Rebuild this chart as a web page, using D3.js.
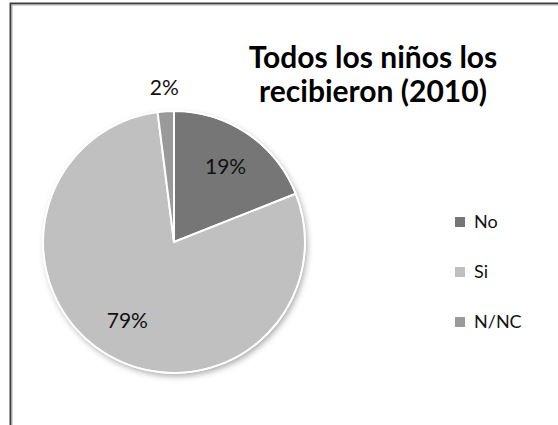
<!DOCTYPE html>
<html>
<head>
<meta charset="utf-8">
<script src="https://cdn.jsdelivr.net/npm/d3@7"></script>
<style>
  html, body { margin: 0; padding: 0; background: #fff; }
  svg { display: block; }
</style>
</head>
<body>
<svg id="chart" width="558" height="425"></svg>
<script>
// Survey answers: did every child receive them (2010)
const categories = ["No", "Si", "N/NC"];
const values = [19, 79, 2];
const labels = ["19%", "79%", "2%"];
const colors = ["#767676", "#c0c0c0", "#9a9a9a"];
const titleLines = ["Todos los niños los", "recibieron (2010)"];

const svg = d3.select("#chart");
const W = 558, H = 425;
const font = "Lato, 'Open Sans', 'DejaVu Sans', sans-serif";

// chart frame (continues past the right and bottom edges)
svg.append("rect")
  .attr("x", 10.5).attr("y", 3.5)
  .attr("width", W + 20).attr("height", H + 20)
  .attr("fill", "#fff")
  .attr("stroke", "#3c3c3c")
  .attr("stroke-width", 2);
svg.append("rect")
  .attr("x", 12).attr("y", 5)
  .attr("width", W + 20).attr("height", H + 20)
  .attr("fill", "none")
  .attr("stroke", "#b0b0b0")
  .attr("stroke-width", 1);

// soft shadow under the pie
const defs = svg.append("defs");
const f = defs.append("filter").attr("id", "shadow")
  .attr("x", "-20%").attr("y", "-20%").attr("width", "140%").attr("height", "140%");
f.append("feDropShadow")
  .attr("dx", 2).attr("dy", 3).attr("stdDeviation", 3)
  .attr("flood-color", "#000").attr("flood-opacity", 0.35);

const cx = 174, cy = 242, r = 131;

const color = d3.scaleOrdinal().domain(categories).range(colors);
const data = categories.map((c, i) => ({ cat: c, value: values[i], label: labels[i] }));

const pie = d3.pie().sort(null).value(d => d.value);
const arcs = pie(data);
const arc = d3.arc().innerRadius(0).outerRadius(r);

const g = svg.append("g").attr("transform", `translate(${cx},${cy})`);

// shadow disc
g.append("circle").attr("r", r).attr("fill", "#c0c0c0").attr("filter", "url(#shadow)");

g.selectAll("path.slice")
  .data(arcs)
  .join("path")
  .attr("class", "slice")
  .attr("d", arc)
  .attr("fill", d => color(d.data.cat))
  .attr("stroke", "#fff")
  .attr("stroke-width", 2)
  .attr("stroke-linejoin", "round");

// outer white rim
g.append("circle").attr("r", r).attr("fill", "none")
  .attr("stroke", "#fff").attr("stroke-width", 1.5);

// data labels: inside for large slices, just outside for thin ones
const labelArc = d3.arc().innerRadius(r * 0.7).outerRadius(r * 0.7);
const outerArc = d3.arc().innerRadius(r * 1.18).outerRadius(r * 1.18);
g.selectAll("text.lbl")
  .data(arcs)
  .join("text")
  .attr("class", "lbl")
  .attr("transform", d => {
    const p = d.data.value < 5 ? outerArc.centroid(d) : labelArc.centroid(d);
    return `translate(${p[0]},${p[1]})`;
  })
  .attr("text-anchor", "middle")
  .attr("dy", "0.35em")
  .attr("font-family", font)
  .attr("font-size", 21)
  .attr("fill", "#111")
  .text(d => d.data.label);

// title, two lines
svg.append("g")
  .selectAll("text.title")
  .data(titleLines)
  .join("text")
  .attr("class", "title")
  .attr("x", 373)
  .attr("y", (d, i) => 68 + i * 34)
  .attr("text-anchor", "middle")
  .attr("font-family", font)
  .attr("font-weight", "bold")
  .attr("font-size", 30)
  .attr("fill", "#000")
  .text(d => d);

// legend
const legend = svg.append("g").attr("transform", "translate(455,222)");
const item = legend.selectAll("g")
  .data(categories)
  .join("g")
  .attr("transform", (d, i) => `translate(0,${i * 50})`);
item.append("rect")
  .attr("x", 0).attr("y", -5)
  .attr("width", 10).attr("height", 10)
  .attr("fill", d => color(d));
item.append("text")
  .attr("x", 19).attr("y", 0)
  .attr("dy", "0.36em")
  .attr("font-family", font)
  .attr("font-size", 18)
  .attr("fill", "#111")
  .text(d => d);
</script>
</body>
</html>
